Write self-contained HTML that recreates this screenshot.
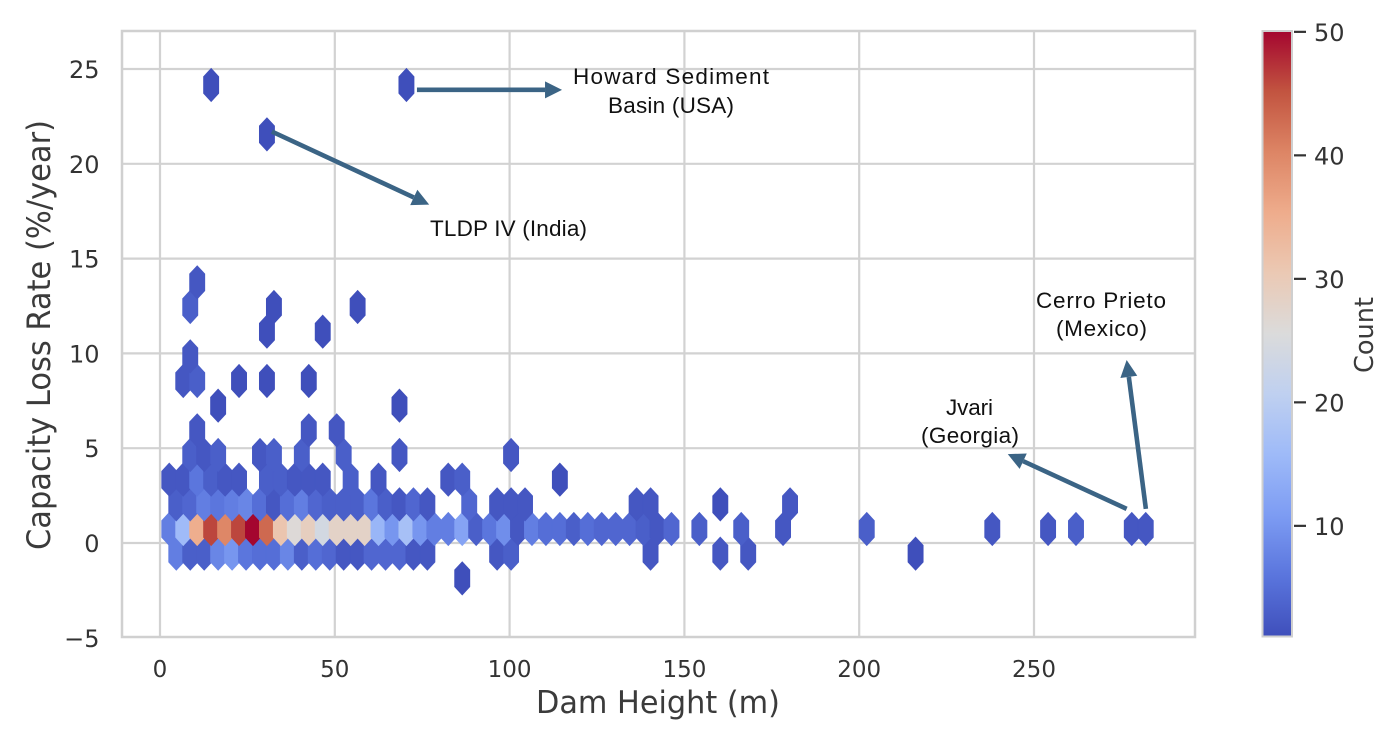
<!DOCTYPE html>
<html lang="en">
<head>
<meta charset="utf-8">
<title>Capacity loss rate vs dam height</title>
<style>
html,body{margin:0;padding:0;background:#fff;width:1396px;height:740px;overflow:hidden}
svg{display:block}
.tick{font-family:"DejaVu Sans","Liberation Sans",sans-serif;fill:#333}
.axis-title{font-family:"DejaVu Sans","Liberation Sans",sans-serif;fill:#3b3b3b}
.note{font-family:"Liberation Sans",sans-serif;font-size:22.5px;fill:#111}
</style>
</head>
<body>
<svg id="chart" xmlns="http://www.w3.org/2000/svg" width="1396" height="740" viewBox="0 0 1396 740">
  <defs>
    <linearGradient id="cbGradient" x1="0" y1="1" x2="0" y2="0"></linearGradient>
  </defs>
  <g id="grid"></g>
  <g id="hexes"></g>
  <rect x="122" y="31" width="1073" height="606" fill="none" stroke="#d0d0d0" stroke-width="2.5"/>
  <g id="xTickGroup"></g>
  <g id="yTickGroup"></g>
  <text class="axis-title" x="536" y="713" font-size="31" textLength="244" lengthAdjust="spacingAndGlyphs">Dam Height (m)</text>
  <text class="axis-title" transform="translate(50,550) rotate(-90)" font-size="32" textLength="430" lengthAdjust="spacingAndGlyphs">Capacity Loss Rate (%/year)</text>

  <g id="arrows"></g>
  <text class="note" x="573" y="84" textLength="196" lengthAdjust="spacing">Howard Sediment</text>
  <text class="note" x="608" y="113" textLength="126" lengthAdjust="spacing">Basin (USA)</text>
  <text class="note" x="430" y="236" textLength="157" lengthAdjust="spacing">TLDP IV (India)</text>
  <text class="note" x="1036" y="308" textLength="130" lengthAdjust="spacing">Cerro Prieto</text>
  <text class="note" x="1056" y="336" textLength="91" lengthAdjust="spacing">(Mexico)</text>
  <text class="note" x="946" y="415" textLength="47" lengthAdjust="spacing">Jvari</text>
  <text class="note" x="921" y="443" textLength="98" lengthAdjust="spacing">(Georgia)</text>

  <rect x="1262.5" y="31" width="29.5" height="605.5" fill="url(#cbGradient)" stroke="#cfcfcf" stroke-width="2"/>
  <g id="cbTickGroup"></g>
  <text class="axis-title" transform="translate(1373,373) rotate(-90)" font-size="26" textLength="76" lengthAdjust="spacingAndGlyphs">Count</text>
</svg>
<script>
// ---- axis ticks ----
const xTicks = [0, 50, 100, 150, 200, 250];
const xTickLabels = ["0", "50", "100", "150", "200", "250"];
const yTicks = [-5, 0, 5, 10, 15, 20, 25];
const yTickLabels = ["\u22125", "0", "5", "10", "15", "20", "25"];
const countTicks = [10, 20, 30, 40, 50];
const countTickLabels = ["10", "20", "30", "40", "50"];

// ---- hexbin values: one entry per bin level of capacity loss rate ----
const binRates = [-1.864, -0.563, 0.738, 2.039, 3.34, 4.641, 5.942, 7.243, 8.544, 9.845, 11.146, 12.447, 13.748, 21.554, 24.156];
const binHeights = [
  [86.45],
  [4.66,8.65,12.64,16.63,20.62,24.61,28.6,32.59,36.58,40.57,44.56,48.55,52.54,56.53,60.52,64.51,68.5,72.49,76.48,96.43,100.42,140.32,160.27,168.25,216.13],
  [2.66,6.65,10.64,14.63,18.62,22.61,26.6,30.59,34.58,38.57,42.56,46.55,50.54,54.53,58.52,62.51,66.5,70.49,74.48,78.47,82.46,86.45,90.44,94.43,98.42,102.41,106.4,110.39,114.38,118.37,122.36,126.35,130.34,134.33,138.32,142.31,146.3,154.28,166.25,178.22,202.16,238.07,254.03,262.01,277.97,281.96],
  [4.66,8.65,12.64,16.63,20.62,24.61,28.6,32.59,36.58,40.57,44.56,48.55,52.54,56.53,60.52,64.51,68.5,72.49,76.48,88.45,96.43,100.42,104.41,136.33,140.32,160.27,180.22],
  [2.66,6.65,10.64,14.63,18.62,22.61,30.59,34.58,38.57,42.56,46.55,54.53,62.51,82.46,86.45,114.38],
  [8.65,12.64,16.63,28.6,32.59,40.57,52.54,68.5,100.42],
  [10.64,42.56,50.54],
  [16.63,68.5],
  [6.65,10.64,22.61,30.59,42.56],
  [8.65],
  [30.59,46.55],
  [8.65,32.59,56.53],
  [10.64],
  [30.59],
  [14.63,70.49]
];
const binCounts = [
  [1],
  [7,3,3,8,10,6,5,5,8,3,5,4,2,2,4,4,4,2,2,2,3,2,2,2,1],
  [7,16,35,46,40,46,50,43,31,26,29,24,28,28,28,15,10,17,10,7,7,12,3,6,9,2,7,5,5,3,5,4,4,4,3,2,4,3,3,2,3,2,2,3,2,2],
  [3,4,7,6,7,8,5,2,5,7,4,3,3,3,6,3,2,4,2,4,2,2,2,2,2,1,2],
  [2,2,6,3,2,2,3,3,2,2,2,3,2,2,3,1],
  [3,2,3,2,3,3,3,2,2],
  [2,2,2],
  [1,1],
  [2,3,1,1,1],
  [2],
  [1,1],
  [3,1,1],
  [2],
  [1],
  [1,1]
];
const countMin = 1;
const countMax = 50;

// ---- annotation arrows in data units: tail height, tail rate, tip height, tip rate ----
const arrowTailHeights = [73.5, 32, 276.5, 282];
const arrowTailRates = [23.9, 21.7, 1.8, 1.8];
const arrowTipHeights = [115, 77, 242.5, 276.5];
const arrowTipRates = [23.9, 17.85, 4.69, 9.65];

// ---- axis functions ----
function xScale(v) { return 160 + v * 3.496; }
function yScale(v) { return 543 - v * 18.96; }
function cScale(v) { return 637 - (v - countMin) * 12.35; }

const NS = "http://www.w3.org/2000/svg";
const colorStops = ["#3f4fbb","#5a75dd","#7d9cf3","#9ebaf8","#bfd0f0","#dbdbdb","#ebc9b4","#eeac8c","#dd8565","#c25440","#a4062f"];
function hexToRgb(h) { return [1, 3, 5].map(i => parseInt(h.substr(i, 2), 16)); }
function colorFor(c) {
  const t = Math.max(0, Math.min(1, (c - countMin) / (countMax - countMin))) * (colorStops.length - 1);
  const i = Math.min(Math.floor(t), colorStops.length - 2);
  const a = hexToRgb(colorStops[i]);
  const b = hexToRgb(colorStops[i + 1]);
  const f = t - i;
  return "rgb(" + a.map((v, n) => Math.round(v + (b[n] - v) * f)).join(",") + ")";
}

// colorbar gradient
const grad = document.getElementById("cbGradient");
colorStops.forEach((col, i) => {
  const st = document.createElementNS(NS, "stop");
  st.setAttribute("offset", (i / (colorStops.length - 1) * 100) + "%");
  st.setAttribute("stop-color", col);
  grad.appendChild(st);
});

// grid + ticks
const gridG = document.getElementById("grid");
const xG = document.getElementById("xTickGroup");
const yG = document.getElementById("yTickGroup");
const cbG = document.getElementById("cbTickGroup");

xTicks.forEach((v, i) => {
  const l = document.createElementNS(NS, "line");
  
  
  l.setAttribute("x1", xScale(v));
  l.setAttribute("x2", xScale(v));
  l.setAttribute("y1", 31);
  l.setAttribute("y2", 637);
  l.setAttribute("stroke", "#d2d2d2");
  l.setAttribute("stroke-width", 2.2);
  gridG.appendChild(l);
  const t = document.createElementNS(NS, "text");
  
  
  t.setAttribute("class", "tick");
  t.setAttribute("x", xScale(v));
  t.setAttribute("y", 677);
  t.setAttribute("text-anchor", "middle");
  t.setAttribute("font-size", 23);
  t.textContent = xTickLabels[i];
  xG.appendChild(t);
});

yTicks.forEach((v, i) => {
  if (v > -5) {
    const l = document.createElementNS(NS, "line");
    
    
    l.setAttribute("x1", 122);
    l.setAttribute("x2", 1195);
    l.setAttribute("y1", yScale(v));
    l.setAttribute("y2", yScale(v));
    l.setAttribute("stroke", "#d2d2d2");
    l.setAttribute("stroke-width", 2.2);
    gridG.appendChild(l);
  }
  const t = document.createElementNS(NS, "text");
  
  
  t.setAttribute("class", "tick");
  t.setAttribute("x", 99.5);
  t.setAttribute("y", yScale(v) + 9);
  t.setAttribute("text-anchor", "end");
  t.setAttribute("font-size", 24);
  t.textContent = yTickLabels[i];
  yG.appendChild(t);
});

countTicks.forEach((v, i) => {
  const l = document.createElementNS(NS, "line");
  
  
  l.setAttribute("x1", 1294);
  l.setAttribute("x2", 1306);
  l.setAttribute("y1", cScale(v));
  l.setAttribute("y2", cScale(v));
  l.setAttribute("stroke", "#333");
  l.setAttribute("stroke-width", 2.2);
  cbG.appendChild(l);
  const t = document.createElementNS(NS, "text");
  
  
  t.setAttribute("class", "tick");
  t.setAttribute("x", 1314);
  t.setAttribute("y", cScale(v) + 9);
  t.setAttribute("font-size", 24);
  t.textContent = countTickLabels[i];
  cbG.appendChild(t);
});

// hexagon cells
const hexG = document.getElementById("hexes");
const halfW = 7.6;
const halfH = 16.6;
const shoulder = 8.4;
binRates.forEach((rate, r) => {
  binHeights[r].forEach((h, i) => {
    const cx = xScale(h);
    const cy = yScale(rate);
    const pts = [
      [cx, cy - halfH], [cx + halfW, cy - shoulder], [cx + halfW, cy + shoulder],
      [cx, cy + halfH], [cx - halfW, cy + shoulder], [cx - halfW, cy - shoulder]
    ].map(p => p[0].toFixed(2) + "," + p[1].toFixed(2)).join(" ");
    const col = colorFor(binCounts[r][i]);
    const el = document.createElementNS(NS, "polygon");
    
    
    el.setAttribute("points", pts);
    el.setAttribute("fill", col);
    el.setAttribute("stroke", col);
    el.setAttribute("stroke-width", 0.7);
    hexG.appendChild(el);
  });
});

// annotation arrows
const arrowG = document.getElementById("arrows");
arrowTailHeights.forEach((h, i) => {
  const x1 = xScale(h);
  const y1 = yScale(arrowTailRates[i]);
  const x2 = xScale(arrowTipHeights[i]);
  const y2 = yScale(arrowTipRates[i]);
  const len = Math.hypot(x2 - x1, y2 - y1);
  const ux = (x2 - x1) / len;
  const uy = (y2 - y1) / len;
  const bx = x2 - ux * 17;
  const by = y2 - uy * 17;
  const line = document.createElementNS(NS, "line");
  
  
  line.setAttribute("x1", x1);
  line.setAttribute("y1", y1);
  line.setAttribute("x2", bx);
  line.setAttribute("y2", by);
  line.setAttribute("stroke", "#3b6485");
  line.setAttribute("stroke-width", 4.6);
  arrowG.appendChild(line);
  const head = document.createElementNS(NS, "polygon");
  
  
  head.setAttribute("points", x2 + "," + y2 + " " + (bx - uy * 8.5) + "," + (by + ux * 8.5) + " " + (bx + uy * 8.5) + "," + (by - ux * 8.5));
  head.setAttribute("fill", "#3b6485");
  arrowG.appendChild(head);
});
</script>
</body>
</html>
